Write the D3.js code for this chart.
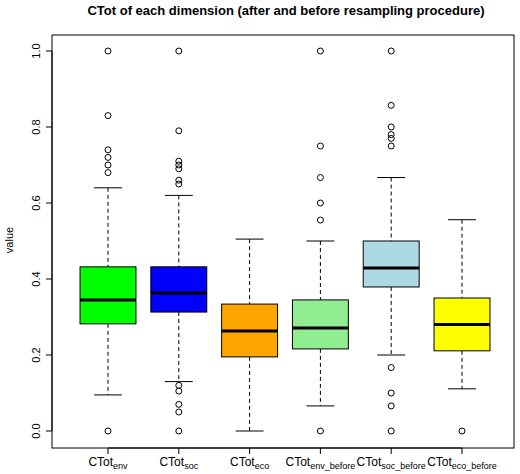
<!DOCTYPE html>
<html>
<head>
<meta charset="utf-8">
<script src="https://d3js.org/d3.v7.min.js"></script>
<style>
  body { margin: 0; background: #fff; }
  text { font-family: "Liberation Sans", Arial, sans-serif; }
</style>
</head>
<body>
<svg width="520" height="474"></svg>
<script>
// box statistics
var names = ["env", "soc", "eco", "env_before", "soc_before", "eco_before"];
var colors = ["#00ff00", "#0000ff", "#ffa500", "#90ee90", "#add8e6", "#ffff00"];
var lowWhisker = [0.095, 0.13, 0.0, 0.066, 0.2, 0.111];
var q1 = [0.282, 0.313, 0.195, 0.216, 0.379, 0.211];
var median = [0.345, 0.363, 0.263, 0.271, 0.429, 0.28];
var q3 = [0.432, 0.432, 0.334, 0.345, 0.5, 0.35];
var highWhisker = [0.64, 0.62, 0.505, 0.5, 0.667, 0.556];
var outliers = [
  [1.0, 0.83, 0.74, 0.72, 0.70, 0.68, 0.0],
  [1.0, 0.79, 0.71, 0.70, 0.69, 0.66, 0.65, 0.12, 0.105, 0.07, 0.05, 0.0],
  [],
  [1.0, 0.75, 0.667, 0.6, 0.555, 0.0],
  [1.0, 0.857, 0.8, 0.78, 0.77, 0.75, 0.167, 0.1, 0.066, 0.0],
  [0.0]
];
var yTicks = [0.0, 0.2, 0.4, 0.6, 0.8, 1.0];

var svg = d3.select("svg");
var plotLeft = 52, plotRight = 514, plotTop = 35, plotBottom = 448;

var x = d3.scalePoint().domain(d3.range(names.length)).range([108, 462]);
var boxW = x.step() * 0.79;
var y = d3.scaleLinear().domain([0, 1]).range([431, 51]);

svg.append("rect").attr("x", plotLeft).attr("y", plotTop).attr("width", plotRight - plotLeft).attr("height", plotBottom - plotTop)
  .attr("fill", "none").attr("stroke", "#000");

var yAxis = svg.append("g").attr("transform", "translate(" + plotLeft + ",0)")
  .call(d3.axisLeft(y).tickValues(yTicks).tickFormat(d3.format(".1f")).tickSize(6));
yAxis.select(".domain").remove();
yAxis.selectAll("text").attr("transform", "rotate(-90)").attr("x", 0).attr("dx", 0).attr("y", -12)
  .attr("text-anchor", "middle").attr("font-size", 11).attr("dy", 0)
  .attr("transform", function(d) { return "translate(-12," + y(d) + ") rotate(-90)"; })
  .attr("y", 0);
yAxis.selectAll(".tick").attr("transform", "translate(0,0)");
yAxis.selectAll(".tick line").attr("y1", function(d) { return y(d); }).attr("y2", function(d) { return y(d); });
yAxis.append("line").attr("x1", 0).attr("x2", 0).attr("y1", y(0)).attr("y2", y(1)).attr("stroke", "#000");

svg.append("text").attr("transform", "translate(13,240) rotate(-90)").attr("text-anchor", "middle")
  .attr("font-size", 11).text("value");

svg.append("text").attr("x", 286).attr("y", 15).attr("text-anchor", "middle")
  .attr("font-size", 13).attr("font-weight", "bold")
  .text("CTot of each dimension (after and before resampling procedure)");

var g = svg.selectAll(".box").data(names).enter().append("g");
g.each(function(d, i) {
  var s = d3.select(this);
  var cx = x(i), w = boxW;
  s.append("line").attr("x1", cx).attr("x2", cx).attr("y1", y(highWhisker[i])).attr("y2", y(q3[i]))
    .attr("stroke", "#000").attr("stroke-dasharray", "4,3");
  s.append("line").attr("x1", cx).attr("x2", cx).attr("y1", y(q1[i])).attr("y2", y(lowWhisker[i]))
    .attr("stroke", "#000").attr("stroke-dasharray", "4,3");
  [highWhisker[i], lowWhisker[i]].forEach(function(v) {
    s.append("line").attr("x1", cx - w / 4).attr("x2", cx + w / 4).attr("y1", y(v)).attr("y2", y(v)).attr("stroke", "#000");
  });
  s.append("rect").attr("x", cx - w / 2).attr("width", w).attr("y", y(q3[i])).attr("height", y(q1[i]) - y(q3[i]))
    .attr("fill", colors[i]).attr("stroke", "#000");
  s.append("line").attr("x1", cx - w / 2).attr("x2", cx + w / 2).attr("y1", y(median[i])).attr("y2", y(median[i]))
    .attr("stroke", "#000").attr("stroke-width", 3);
  outliers[i].forEach(function(v) {
    s.append("circle").attr("cx", cx).attr("cy", y(v)).attr("r", 3).attr("fill", "none").attr("stroke", "#000");
  });
  s.append("line").attr("x1", cx).attr("x2", cx).attr("y1", plotBottom).attr("y2", plotBottom + 6).attr("stroke", "#000");
  var t = s.append("text").attr("x", cx).attr("y", 466).attr("text-anchor", "middle").attr("font-size", 12);
  t.append("tspan").text("CTot");
  t.append("tspan").attr("dy", 3).attr("font-size", 9).text(d);
});
svg.append("line").attr("x1", x(0)).attr("x2", x(5))
  .attr("y1", plotBottom).attr("y2", plotBottom).attr("stroke", "#000");
</script>
</body>
</html>
